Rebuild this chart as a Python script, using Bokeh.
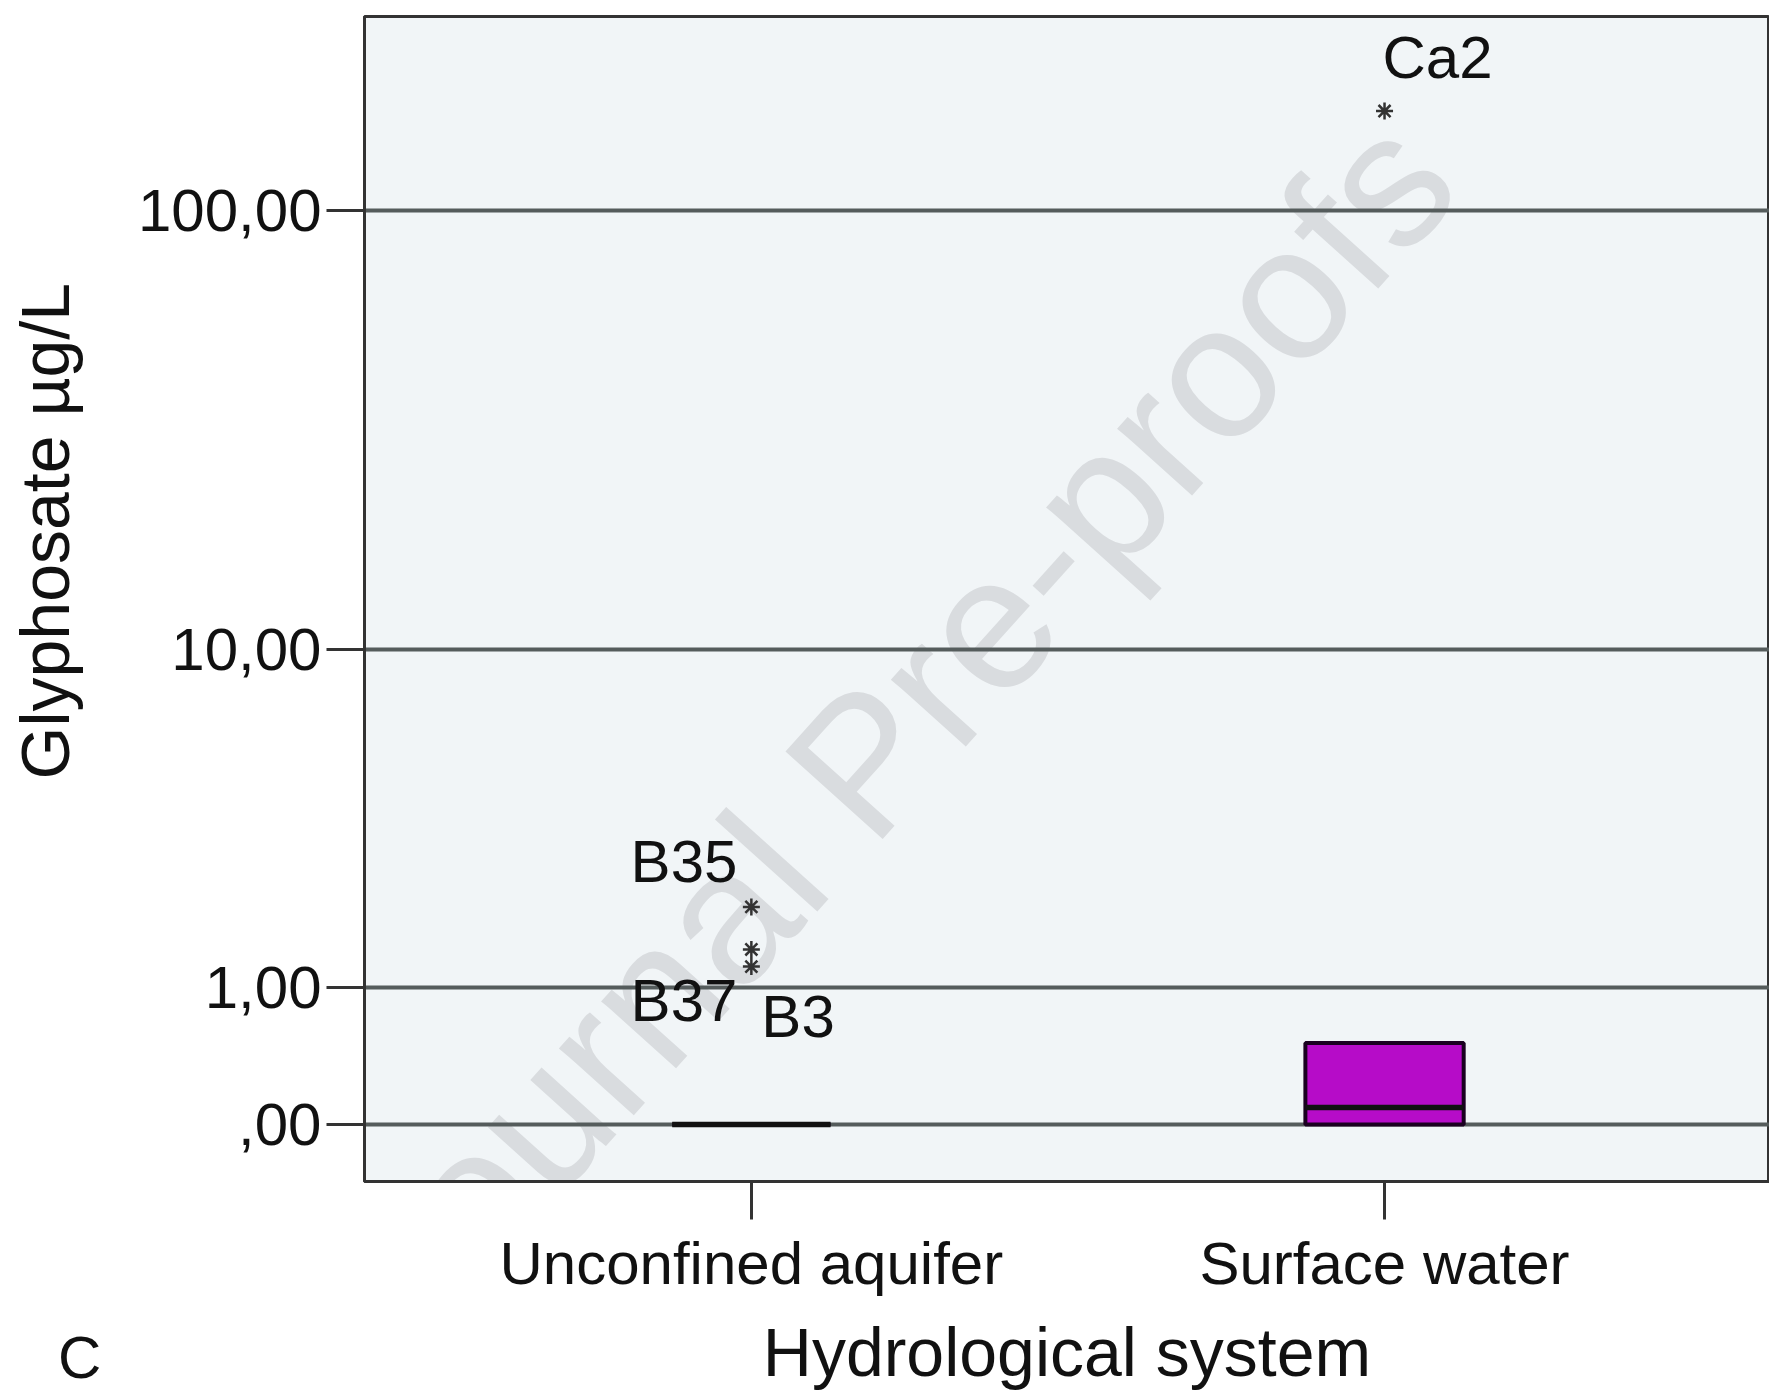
import numpy as np
from bokeh.plotting import figure
from bokeh.models import FixedTicker, Label, Range1d, Title, Div
from bokeh.layouts import column
from bokeh.embed import file_html
from bokeh.resources import INLINE
from bokeh.core.properties import value

# ---------------- data ----------------
groups = ["Unconfined aquifer", "Surface water"]
group_pos = [1, 2]
q1 = [0.0, 0.0]
median = [0.0, 0.09]
q3 = [0.0, 0.51]

outlier_names = ["B35", "B37", "B3", "Ca2"]
outlier_group = [1, 1, 1, 2]
outlier_values = [2.0, 1.42, 1.22, 166.0]

tick_values = [0.0, 1.0, 10.0, 100.0]
tick_labels = [",00", "1,00", "10,00", "100,00"]

# label placement (screen px relative to the star) -- layout, not data
label_dx = [-14, -14, 10, -2]
label_dy = [-45, 51, 50, -54]
label_align = ["right", "right", "left", "left"]


def t(v):
    return np.log10(np.asarray(v, dtype=float) + 1.0)


FONT = "Liberation Sans"
TXT = "#111111"
SHIFT = 60  # extra left border hidden by a negative margin (room for the y title)

p = figure(width=1769 + 2 * SHIFT, height=1393, output_backend="svg", toolbar_location=None,
           x_range=Range1d(0.389, 2.608), y_range=Range1d(-0.125, 2.43),
           min_border_left=364 + SHIFT, min_border_right=0, min_border_top=16,
           min_border_bottom=212, margin=(0, 0, 0, -SHIFT))
p.background_fill_color = "#f1f5f7"
p.border_fill_color = "white"
p.outline_line_color = "#333333"
p.outline_line_width = 3
p.xgrid.visible = False
p.ygrid.visible = False

# watermark (beneath everything)
p.add_layout(Label(x=1.225, y=0.87, text="Journal Pre-proofs", angle=float(np.deg2rad(48)),
                   text_align="center", text_baseline="middle",
                   text_font=FONT, text_font_size="190px",
                   text_color="#d9dcdf", level="underlay"))

# grid lines at the tick values
yt = t(tick_values)
p.hspan(y=yt, line_color="#555c5c", line_width=4)

# boxes
gp = np.array(group_pos, dtype=float)
hw = 0.125
p.quad(left=gp - hw, right=gp + hw, bottom=t(q1), top=t(q3),
       fill_color="#b60cc8", line_color="#1a0020", line_width=4)
p.segment(x0=gp - hw, x1=gp + hw, y0=t(median), y1=t(median),
          line_color="#111111", line_width=5.5)

# outliers
p.scatter(x=outlier_group, y=t(outlier_values), marker="asterisk", size=17,
          line_color="#333333", line_width=2.5)

for al in ("right", "left"):
    idx = [i for i, a in enumerate(label_align) if a == al]
    p.text(x=[outlier_group[i] for i in idx],
           y=list(t([outlier_values[i] for i in idx])),
           text=[outlier_names[i] for i in idx],
           x_offset=[label_dx[i] for i in idx],
           y_offset=[label_dy[i] for i in idx],
           text_align=al, text_baseline="alphabetic",
           text_font=value(FONT), text_font_size="60px", text_color=TXT)

# axes
p.yaxis.ticker = FixedTicker(ticks=list(yt))
p.yaxis.major_label_overrides = {float(k): lab for k, lab in zip(yt, tick_labels)}
p.xaxis.ticker = FixedTicker(ticks=group_pos)
p.xaxis.major_label_overrides = {g: lab for g, lab in zip(group_pos, groups)}
for ax in (p.xaxis, p.yaxis):
    ax.minor_tick_line_color = None
    ax.major_tick_in = 0
    ax.major_tick_out = 38
    ax.major_tick_line_color = "#333333"
    ax.major_tick_line_width = 3
    ax.axis_line_color = "#333333"
    ax.axis_line_width = 3
    ax.major_label_text_font = FONT
    ax.major_label_text_font_size = "60px"
    ax.major_label_text_color = TXT
p.yaxis.major_label_standoff = 5
p.xaxis.major_label_standoff = 10

p.xaxis.axis_label = "Hydrological system"
p.xaxis.axis_label_text_font = FONT
p.xaxis.axis_label_text_font_size = "68px"
p.xaxis.axis_label_text_font_style = "normal"
p.xaxis.axis_label_text_color = TXT
p.xaxis.axis_label_standoff = 14

# y title (placed along the axis like the original)
p.add_layout(Title(text="Glyphosate µg/L", align="left", offset=402,
                   vertical_align="top", standoff=100,
                   text_font=FONT, text_font_size="68px",
                   text_font_style="normal", text_color=TXT), "left")

# panel letter
letter = Div(text="C", width=70, height=70, margin=(-70, 0, 0, 58),
             styles={"font-family": FONT, "font-size": "60px",
                     "line-height": "70px", "color": TXT})

layout = column(p, letter)
open("out.html", "w").write(file_html(layout, INLINE))
